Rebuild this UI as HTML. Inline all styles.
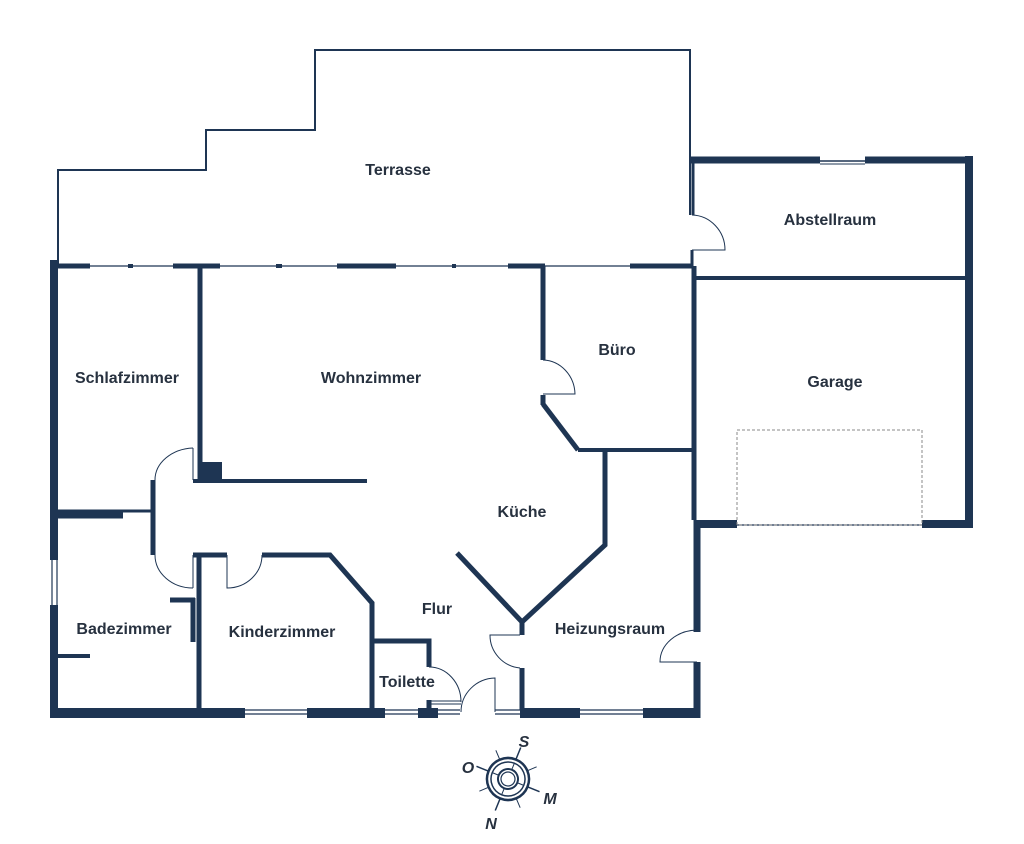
<!DOCTYPE html>
<html><head><meta charset="utf-8"><style>
html,body{margin:0;padding:0;background:#fff;}
svg{display:block}
text{font-family:"Liberation Sans",sans-serif;font-weight:bold;font-size:16px;fill:#27313f;text-anchor:middle}
</style></head><body>
<svg width="1024" height="844" viewBox="0 0 1024 844">
<g fill="none" stroke="#1e3553" stroke-linecap="butt">
<polyline points="58,265 58,170 206,170 206,130 315,130 315,50 690,50 690,215" stroke-width="2"/>
<line x1="692" y1="250" x2="692" y2="266" stroke-width="3"/>
<line x1="690" y1="160" x2="820" y2="160" stroke-width="7"/>
<line x1="865" y1="160" x2="973" y2="160" stroke-width="7"/>
<line x1="820" y1="161" x2="865" y2="161" stroke-width="1.5"/>
<line x1="820" y1="164" x2="865" y2="164" stroke-width="1"/>
<line x1="969" y1="156" x2="969" y2="528" stroke-width="8"/>
<line x1="693" y1="163" x2="693" y2="215" stroke-width="3"/>
<line x1="693" y1="278" x2="966" y2="278" stroke-width="4"/>
<line x1="50" y1="266" x2="690" y2="266" stroke-width="1.2"/>
<line x1="58" y1="266" x2="90" y2="266" stroke-width="5"/>
<line x1="173" y1="266" x2="220" y2="266" stroke-width="5"/>
<line x1="337" y1="266" x2="396" y2="266" stroke-width="5"/>
<line x1="128" y1="266" x2="133" y2="266" stroke-width="4"/>
<line x1="276" y1="266" x2="282" y2="266" stroke-width="4"/>
<line x1="452" y1="266" x2="456" y2="266" stroke-width="4"/>
<line x1="508" y1="266" x2="545" y2="266" stroke-width="5"/>
<line x1="630" y1="266" x2="692" y2="266" stroke-width="5"/>
<line x1="54" y1="260" x2="54" y2="560" stroke-width="8"/>
<line x1="54" y1="605" x2="54" y2="718" stroke-width="8"/>
<line x1="52" y1="560" x2="52" y2="605" stroke-width="1.2"/>
<line x1="57" y1="560" x2="57" y2="605" stroke-width="1.2"/>
<line x1="50" y1="713" x2="245" y2="713" stroke-width="10"/>
<line x1="307" y1="713" x2="385" y2="713" stroke-width="10"/>
<line x1="418" y1="713" x2="438" y2="713" stroke-width="10"/>
<line x1="520" y1="713" x2="580" y2="713" stroke-width="10"/>
<line x1="643" y1="713" x2="698" y2="713" stroke-width="10"/>
<g stroke-width="1.2">
<line x1="245" y1="710" x2="307" y2="710"/><line x1="245" y1="714" x2="307" y2="714"/>
<line x1="385" y1="710" x2="418" y2="710"/><line x1="385" y1="714" x2="418" y2="714"/>
<line x1="438" y1="710" x2="460" y2="710"/><line x1="438" y1="714" x2="460" y2="714"/>
<line x1="495" y1="710" x2="520" y2="710"/><line x1="495" y1="714" x2="520" y2="714"/>
<line x1="580" y1="710" x2="643" y2="710"/><line x1="580" y1="714" x2="643" y2="714"/>
</g>
<line x1="694" y1="266" x2="694" y2="520" stroke-width="5"/>
<line x1="697" y1="520" x2="697" y2="632" stroke-width="7"/>
<line x1="697" y1="662" x2="697" y2="718" stroke-width="7"/>
<line x1="698" y1="524" x2="737" y2="524" stroke-width="8"/>
<line x1="922" y1="524" x2="973" y2="524" stroke-width="8"/>
<line x1="737" y1="525" x2="922" y2="525" stroke-width="1.2"/>
<rect x="737" y="430" width="185" height="95" stroke-width="1" stroke="#888" stroke-dasharray="3,2"/>
<line x1="200" y1="266" x2="200" y2="482" stroke-width="5"/>
<rect x="200" y="462" width="22" height="20" fill="#1e3553" stroke="none"/>
<line x1="193" y1="481" x2="367" y2="481" stroke-width="4"/>
<line x1="58" y1="515" x2="123" y2="515" stroke-width="7"/>
<line x1="58" y1="511" x2="152" y2="511" stroke-width="3"/>
<line x1="153" y1="480" x2="153" y2="555" stroke-width="5"/>
<path d="M193,448 A40,32 0 0 0 155,480" stroke-width="1"/>
<line x1="193" y1="448" x2="193" y2="480" stroke-width="1"/>
<path d="M155,555 A38,33 0 0 0 193,588" stroke-width="1"/>
<line x1="193" y1="555" x2="193" y2="588" stroke-width="1"/>
<polyline points="193,555 227,555" stroke-width="5"/>
<polyline points="262,555 330,555 372,603 372,710" stroke-width="5"/>
<path d="M227,555 L227,588 A35,33 0 0 0 262,555" stroke-width="1"/>
<line x1="199" y1="555" x2="199" y2="710" stroke-width="5"/>
<line x1="170" y1="600" x2="195" y2="600" stroke-width="5"/>
<line x1="193" y1="598" x2="193" y2="642" stroke-width="5"/>
<line x1="58" y1="656" x2="90" y2="656" stroke-width="4"/>
<polyline points="372,641 429,641 429,667" stroke-width="5"/>
<line x1="429" y1="700" x2="429" y2="710" stroke-width="5"/>
<path d="M429,667 A32,35 0 0 1 461,702" stroke-width="1"/>
<line x1="430" y1="701" x2="461" y2="701" stroke-width="1"/><line x1="430" y1="704" x2="461" y2="704" stroke-width="1"/>
<path d="M461,712 A35,34 0 0 1 495,678 L495,712" stroke-width="1"/>
<polyline points="457,553 522,622 605,545 605,450" stroke-width="5"/>
<line x1="522" y1="620" x2="522" y2="635" stroke-width="5"/>
<line x1="522" y1="668" x2="522" y2="710" stroke-width="5"/>
<path d="M520,635 L490,635 A33,33 0 0 0 520,668" stroke-width="1"/>
<line x1="578" y1="450" x2="694" y2="450" stroke-width="4"/>
<line x1="543" y1="266" x2="543" y2="360" stroke-width="5"/>
<line x1="543" y1="395" x2="543" y2="405" stroke-width="5"/>
<line x1="543" y1="404" x2="578" y2="450" stroke-width="5"/>
<path d="M543,360 A33,35 0 0 1 575,394 L543,394" stroke-width="1"/>
<path d="M697,630 A38,32 0 0 0 660,662 L697,662" stroke-width="1"/>
<path d="M692,215 A34,35 0 0 1 725,250 L692,250" stroke-width="1"/>
<g transform="translate(508,779) rotate(22)" stroke-width="1.5">
<circle r="21" stroke-width="2.5"/><circle r="17" stroke-width="1.5"/><circle r="10" stroke-width="2"/><circle r="7" stroke-width="1.2"/>
<line x1="0" y1="-21" x2="0" y2="-34"/><line x1="0" y1="21" x2="0" y2="34"/>
<line x1="-21" y1="0" x2="-34" y2="0"/><line x1="21" y1="0" x2="34" y2="0"/>
<line x1="15" y1="-15" x2="22" y2="-22" stroke-width="1"/><line x1="-15" y1="-15" x2="-22" y2="-22" stroke-width="1"/>
<line x1="15" y1="15" x2="22" y2="22" stroke-width="1"/><line x1="-15" y1="15" x2="-22" y2="22" stroke-width="1"/>
<line x1="0" y1="-10" x2="0" y2="-17" stroke-width="1"/><line x1="0" y1="10" x2="0" y2="17" stroke-width="1"/>
<line x1="-10" y1="0" x2="-17" y2="0" stroke-width="1"/><line x1="10" y1="0" x2="17" y2="0" stroke-width="1"/>
</g>
</g>
<text x="398" y="175">Terrasse</text>
<text x="830" y="225">Abstellraum</text>
<text x="127" y="383">Schlafzimmer</text>
<text x="371" y="383">Wohnzimmer</text>
<text x="617" y="355">Büro</text>
<text x="835" y="387">Garage</text>
<text x="522" y="517">Küche</text>
<text x="437" y="614">Flur</text>
<text x="124" y="634">Badezimmer</text>
<text x="282" y="637">Kinderzimmer</text>
<text x="610" y="634">Heizungsraum</text>
<text x="407" y="687">Toilette</text>
<text x="524" y="747" style="font-style:italic;font-size:16px">S</text>
<text x="468" y="773" style="font-style:italic;font-size:16px">O</text>
<text x="550" y="804" style="font-style:italic;font-size:16px">M</text>
<text x="491" y="829" style="font-style:italic;font-size:16px">N</text>
</svg>
</body></html>
